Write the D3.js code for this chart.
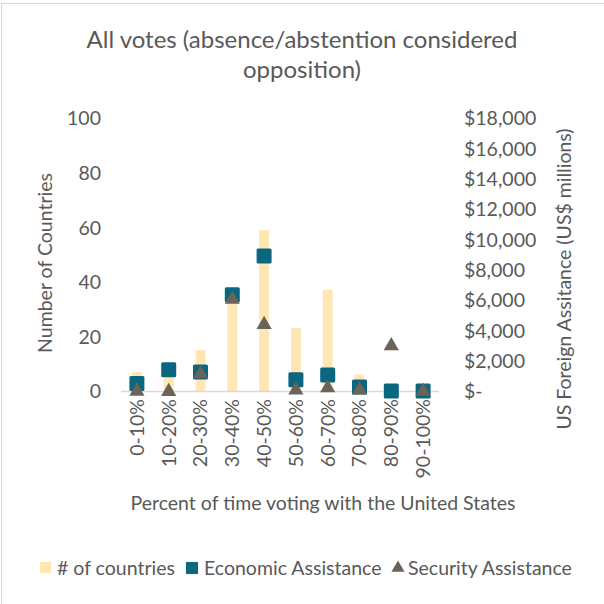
<!DOCTYPE html>
<html>
<head>
<meta charset="utf-8">
<script src="https://cdn.jsdelivr.net/npm/d3@7"></script>
<style>
  body { margin: 0; background: #fff; }
  text { font-family: Lato, "Open Sans", sans-serif; fill: #595959; }
</style>
</head>
<body>
<svg id="drawing_region"></svg>
<script>
const categories = ['0-10%', '10-20%', '20-30%', '30-40%', '40-50%', '50-60%', '60-70%', '70-80%', '80-90%', '90-100%'];
const countries = [7, 5, 15, 36, 59, 23, 37, 6, 0, 0];
const economic = [500, 1400, 1250, 6350, 8900, 750, 1050, 270, 0, 0];
const security = [50, 30, 1200, 6100, 4450, 130, 270, 130, 3050, 50];
const leftTicks = [0, 20, 40, 60, 80, 100];
const rightTicks = [0, 2000, 4000, 6000, 8000, 10000, 12000, 14000, 16000, 18000];

const W = 604, H = 604;
const margin = { top: 118, right: 165, bottom: 213, left: 121 };
const iw = W - margin.left - margin.right;
const ih = H - margin.top - margin.bottom;
const fs = '19.5px';

const svg = d3.select('#drawing_region')
    .attr('width', W)
    .attr('height', H);

// chart border
svg.append('rect')
    .attr('x', 1.5).attr('y', 3.5)
    .attr('width', 640).attr('height', 640)
    .attr('fill', 'none')
    .attr('stroke', '#d9d9d9');

const chart = svg.append('g')
    .attr('transform', `translate(${margin.left}, ${margin.top})`);

const xscale = d3.scaleBand().domain(categories).range([0, iw]).paddingInner(0.69).paddingOuter(0.345);
const yleft = d3.scaleLinear().domain([0, 100]).range([ih, 0]);
const yright = d3.scaleLinear().domain([0, 18000]).range([ih, 0]);

// left axis
const leftAxis = chart.append('g')
    .call(d3.axisLeft(yleft).tickValues(leftTicks).tickSize(0).tickPadding(20));
leftAxis.select('.domain').remove();
leftAxis.selectAll('text').style('font-size', fs).attr('dy', '0.35em');

// right axis
const fmt = d => d === 0 ? '$-' : '$' + d3.format(',')(d);
const rightAxis = chart.append('g')
    .attr('transform', `translate(${iw}, 0)`)
    .call(d3.axisRight(yright).tickValues(rightTicks).tickFormat(fmt).tickSize(0).tickPadding(25));
rightAxis.select('.domain').remove();
rightAxis.selectAll('text').style('font-size', fs).attr('dy', '0.35em');

// bars
chart.selectAll('rect.bar')
    .data(countries)
    .join('rect')
    .attr('class', 'bar')
    .attr('x', (d, i) => xscale(categories[i]))
    .attr('y', d => yleft(d))
    .attr('width', xscale.bandwidth())
    .attr('height', d => ih - yleft(d))
    .attr('fill', '#ffe6b3');

// baseline
chart.append('line')
    .attr('x1', 0).attr('x2', iw)
    .attr('y1', ih + 0.5).attr('y2', ih + 0.5)
    .attr('stroke', '#d9d9d9')
    .attr('stroke-width', 1.5);

// x axis labels
const xAxis = chart.append('g')
    .attr('transform', `translate(0, ${ih})`)
    .call(d3.axisBottom(xscale).tickSize(0).tickPadding(0));
xAxis.select('.domain').remove();
xAxis.selectAll('text')
    .style('font-size', fs)
    .attr('text-anchor', 'end')
    .attr('transform', 'rotate(-90)')
    .attr('x', -8)
    .attr('y', 0)
    .attr('dy', '0.35em');

const cx = i => xscale(categories[i]) + xscale.bandwidth() / 2;

// economic squares
const sq = 15;
chart.selectAll('rect.econ')
    .data(economic)
    .join('rect')
    .attr('class', 'econ')
    .attr('x', (d, i) => cx(i) - sq / 2)
    .attr('y', d => yright(d) - sq / 2)
    .attr('width', sq).attr('height', sq)
    .attr('rx', 1.5)
    .attr('fill', '#0b6680');

// security triangles
const tri = d3.symbol().type(d3.symbolTriangle).size(100);
chart.selectAll('path.sec')
    .data(security)
    .join('path')
    .attr('class', 'sec')
    .attr('transform', (d, i) => `translate(${cx(i)}, ${yright(d) + 1})`)
    .attr('d', tri)
    .attr('fill', '#6b6259');

// titles
svg.append('text')
    .attr('x', 302).attr('y', 48)
    .attr('text-anchor', 'middle')
    .style('font-size', '24px')
    .text('All votes (absence/abstention considered');
svg.append('text')
    .attr('x', 302).attr('y', 78)
    .attr('text-anchor', 'middle')
    .style('font-size', '24px')
    .text('opposition)');

svg.append('text')
    .attr('transform', `translate(52, 263) rotate(-90)`)
    .attr('text-anchor', 'middle')
    .style('font-size', fs)
    .text('Number of Countries');

svg.append('text')
    .attr('transform', `translate(571, 279) rotate(-90)`)
    .attr('text-anchor', 'middle')
    .style('font-size', fs)
    .text('US Foreign Assitance (US$ millions)');

svg.append('text')
    .attr('x', 323).attr('y', 510)
    .attr('text-anchor', 'middle')
    .style('font-size', fs)
    .text('Percent of time voting with the United States');

// legend
const legend = svg.append('g').attr('transform', 'translate(0, 568)');
legend.append('rect').attr('x', 40).attr('y', -6).attr('width', 11).attr('height', 11).attr('fill', '#ffe6b3');
legend.append('text').attr('x', 57).attr('y', 0).attr('dy', '0.35em').style('font-size', fs).text('# of countries');
legend.append('rect').attr('x', 186).attr('y', -6).attr('width', 12).attr('height', 12).attr('fill', '#0b6680');
legend.append('text').attr('x', 204).attr('y', 0).attr('dy', '0.35em').style('font-size', fs).text('Economic Assistance');
legend.append('path').attr('transform', 'translate(398, 0)').attr('d', d3.symbol().type(d3.symbolTriangle).size(75)).attr('fill', '#6b6259');
legend.append('text').attr('x', 408).attr('y', 0).attr('dy', '0.35em').style('font-size', fs).text('Security Assistance');
</script>
</body>
</html>
